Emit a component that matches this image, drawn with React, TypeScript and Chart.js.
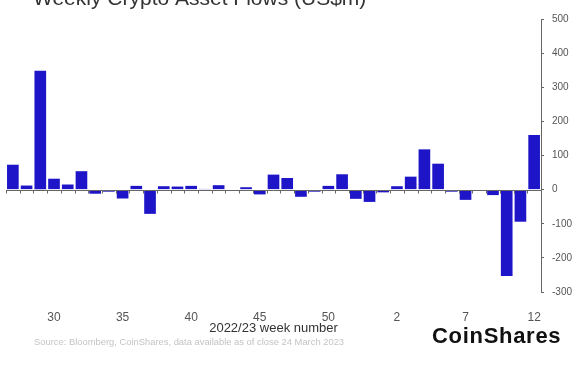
import { useEffect, useRef } from 'react';
import { Chart, registerables } from 'chart.js';

Chart.register(...registerables);

const weeks = [
  '27', '28', '29', '30', '31', '32', '33', '34', '35', '36', '37', '38', '39', '40',
  '41', '42', '43', '44', '45', '46', '47', '48', '49', '50', '51', '52', '53',
  '1', '2', '3', '4', '5', '6', '7', '8', '9', '10', '11', '12',
];
const flows = [
  73, 12, 348, 32, 15, 54, -12, -6, -26, 11, -71, 10, 9, 11,
  2, 13, -2, 7, -14, 44, 34, -21, -6, 11, 45, -27, -36,
  -8, 10, 38, 118, 76, -6, -30, 0, -16, -253, -94, 160,
];
const shownWeekTicks = ['30', '35', '40', '45', '50', '2', '7', '12'];
const yTicks = { min: -300, max: 500, step: 100 };

const TITLE = 'Weekly Crypto Asset Flows (US$m)';
const AXIS_TITLE = '2022/23 week number';
const SOURCE = 'Source: Bloomberg, CoinShares, data available as of close 24 March 2023';
const LOGO = 'CoinShares';

const FONT = '"Liberation Sans", Arial, Helvetica, sans-serif';

export default function App() {
  const ref = useRef<HTMLCanvasElement>(null);

  useEffect(() => {
    if (!ref.current) return;

    const overlay = {
      id: 'overlay',
      afterDatasetsDraw(chart: any) {
        const { ctx, chartArea } = chart;
        const yS = chart.scales.y;
        const xS = chart.scales.x;
        const y0 = Math.round(yS.getPixelForValue(0)) + 0.5;
        ctx.save();
        ctx.strokeStyle = '#666';
        ctx.lineWidth = 1;
        ctx.beginPath();
        ctx.moveTo(chartArea.left, y0);
        ctx.lineTo(chartArea.right, y0);
        const n = weeks.length;
        const w = (chartArea.right - chartArea.left) / n;
        for (let i = 0; i < n; i++) {
          const x = Math.round(xS.getPixelForValue(i) - w / 2) + 0.5;
          ctx.moveTo(x, y0);
          ctx.lineTo(x, y0 + 3);
        }
        ctx.stroke();
        ctx.restore();
      },
      afterDraw(chart: any) {
        const { ctx, chartArea } = chart;
        ctx.save();
        ctx.textBaseline = 'alphabetic';
        // title (cut off at top)
        ctx.fillStyle = '#333';
        ctx.font = `21px ${FONT}`;
        ctx.textAlign = 'left';
        ctx.fillText(TITLE, 33, 5);
        // axis title
        ctx.fillStyle = '#333';
        ctx.font = `13px ${FONT}`;
        ctx.textAlign = 'center';
        ctx.textBaseline = 'middle';
        ctx.fillText(AXIS_TITLE, (chartArea.left + chartArea.right) / 2, 328);
        // source
        ctx.fillStyle = '#c4c4c4';
        ctx.font = `9.4px ${FONT}`;
        ctx.textAlign = 'left';
        ctx.fillText(SOURCE, 34, 342);
        // logo
        ctx.fillStyle = '#111';
        ctx.font = `bold 22px ${FONT}`;
        ctx.textAlign = 'left';
        (ctx as any).letterSpacing = '0.7px';
        ctx.fillText(LOGO, 432, 337);
        (ctx as any).letterSpacing = '0px';
        ctx.restore();
      },
    };

    const chart = new Chart(ref.current, {
      type: 'bar',
      data: {
        labels: weeks,
        datasets: [
          {
            data: flows,
            backgroundColor: '#1e15c8',
            borderWidth: 0,
            barPercentage: 0.85,
            categoryPercentage: 1,
          },
        ],
      },
      options: {
        responsive: false,
        animation: false,
        devicePixelRatio: 1,
        layout: { padding: { left: 6, top: 19, right: 0, bottom: 0 } },
        plugins: {
          legend: { display: false },
          tooltip: { enabled: false },
        },
        scales: {
          x: {
            type: 'category',
            offset: true,
            grid: { display: false },
            border: { display: false },
            ticks: {
              autoSkip: false,
              maxRotation: 0,
              minRotation: 0,
              padding: 10,
              color: '#555',
              font: { family: FONT, size: 12 },
              callback: (_v: any, index: number) =>
                shownWeekTicks.includes(weeks[index]) ? weeks[index] : '',
            },
            afterFit: (s: any) => {
              s.height = 75;
            },
          },
          y: {
            position: 'right',
            min: yTicks.min,
            max: yTicks.max,
            ticks: {
              stepSize: yTicks.step,
              color: '#555',
              padding: 8,
              font: { family: FONT, size: 10 },
            },
            grid: { drawOnChartArea: false, tickLength: 3, color: '#666' },
            border: { display: true, color: '#666' },
            afterFit: (s: any) => {
              s.width = 42;
            },
          },
        },
      },
      plugins: [overlay],
    });

    return () => chart.destroy();
  }, []);

  return (
    <div style={{ position: 'fixed', left: 0, top: 0, width: 583, height: 367, background: '#fff' }}>
      <canvas ref={ref} width={583} height={367} style={{ display: 'block', width: 583, height: 367 }} />
    </div>
  );
}
